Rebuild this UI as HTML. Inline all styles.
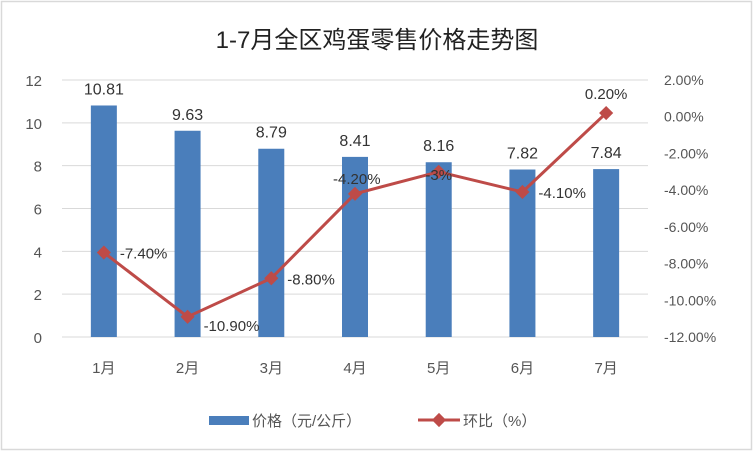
<!DOCTYPE html>
<html><head><meta charset="utf-8">
<style>
html,body{margin:0;padding:0;background:#fff;}
svg{display:block;font-family:"Liberation Sans","Noto Sans CJK SC",sans-serif;}
</style></head>
<body>
<svg id="chart" width="753" height="451" viewBox="0 0 753 451" xmlns="http://www.w3.org/2000/svg">
<rect x="1.5" y="1.5" width="750" height="448" fill="#fff" stroke="#d9d9d9" stroke-width="1.5"/>
<text x="377" y="48" text-anchor="middle" font-size="24" fill="#222">1-7月全区鸡蛋零售价格走势图</text>
<g id="grid"></g><g id="bars"></g><g id="line"></g><g id="labels"></g>
<g>
<rect x="209" y="416" width="40" height="9" fill="#4a7ebb"/>
<text x="252" y="426" font-size="15" fill="#555">价格（元/公斤）</text>
<line x1="418" y1="420" x2="460" y2="420" stroke="#be4b48" stroke-width="3"/>
<rect x="434" y="415" width="10" height="10" fill="#be4b48" transform="rotate(45 439 420)"/>
<text x="463" y="426" font-size="15" fill="#555">环比（%）</text>
</g>
</svg>
<script>
const categories=["1月","2月","3月","4月","5月","6月","7月"];
const prices=[10.81,9.63,8.79,8.41,8.16,7.82,7.84];
const mom=[-7.40,-10.90,-8.80,-4.20,-3.00,-4.10,0.20];
const momLabels=["-7.40%","-10.90%","-8.80%","-4.20%","-3%","-4.10%","0.20%"];
const leftTicks=[0,2,4,6,8,10,12];
const rightTicks=[2,0,-2,-4,-6,-8,-10,-12];
const NS="http://www.w3.org/2000/svg";
const X0=62,X1=648,Y0=337,Y1=80;
const band=(X1-X0)/categories.length;
const xc=i=>X0+band*(i+0.5);
const yL=v=>Y0-(v/12)*(Y0-Y1);
const yR=v=>Y0-((v+12)/14)*(Y0-Y1);
function mk(tag,attrs,parent,text){const e=document.createElementNS(NS,tag);for(const k in attrs)e.setAttribute(k,attrs[k]);if(text!==undefined)e.textContent=text;parent.appendChild(e);return e;}
const grid=document.getElementById('grid'),bars=document.getElementById('bars'),line=document.getElementById('line'),labels=document.getElementById('labels');
leftTicks.forEach(t=>{
 const l=mk('line',{x1:X0,x2:X1,y1:yL(t),y2:yL(t),stroke:'#d9d9d9','stroke-width':1},grid);
 
 
 const tx=mk('text',{x:42,y:yL(t)+6,'text-anchor':'end','font-size':15,fill:'#555'},grid,String(t));
 
 
});
rightTicks.forEach(t=>{
 const tx=mk('text',{x:664,y:yR(t)+5,'font-size':14,fill:'#555'},grid,t.toFixed(2)+'%');
 
 
});
categories.forEach((c,i)=>{
 const b=mk('rect',{x:xc(i)-13,y:yL(prices[i]),width:26,height:Y0-yL(prices[i]),fill:'#4a7ebb'},bars);
 
 
 const t=mk('text',{x:xc(i),y:373,'text-anchor':'middle','font-size':15,fill:'#555'},labels,c);
 
 
 const v=mk('text',{x:xc(i),y:yL(prices[i])-11,'text-anchor':'middle','font-size':16,fill:'#333'},labels,prices[i].toFixed(2));
 
 
});
const pts=mom.map((v,i)=>xc(i)+','+yR(v)).join(' ');
const pl=mk('polyline',{points:pts,fill:'none',stroke:'#be4b48','stroke-width':3,'stroke-linejoin':'round'},line);


const off=[[6,6,'start'],[6,14,'start'],[6,6,'start'],[-32,-10,'start'],[0,8,'middle'],[6,6,'start'],[0,-14,'middle']];
mom.forEach((v,i)=>{
 const m=mk('rect',{x:xc(i)-5,y:yR(v)-5,width:10,height:10,fill:'#be4b48',transform:`rotate(45 ${xc(i)} ${yR(v)})`},line);
 
 
 const o=off[i];
 const t=mk('text',{x:xc(i)+o[0]+(o[2]==='middle'?0:10),y:yR(v)+o[1],'text-anchor':o[2],'font-size':15,fill:'#333'},labels,momLabels[i]);
 
 
});
</script>
</body></html>
